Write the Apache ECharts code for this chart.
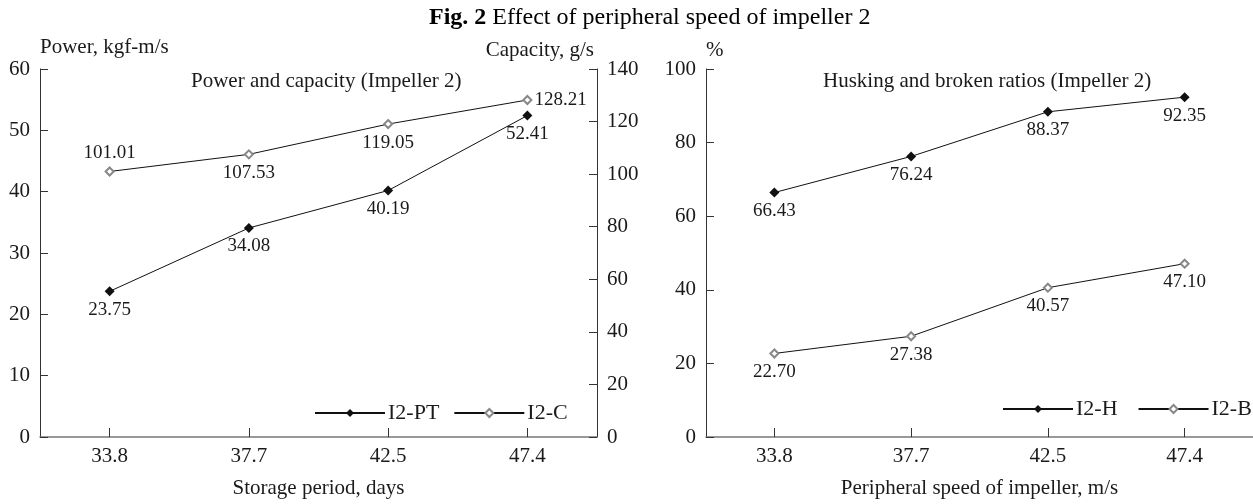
<!DOCTYPE html>
<html>
<head>
<meta charset="utf-8">
<script src="https://cdn.jsdelivr.net/npm/echarts@6/dist/echarts.min.js"></script>
<style>
html,body{margin:0;padding:0;background:#fff;}
#c{width:1253px;height:504px;}
</style>
</head>
<body>
<div id="c"></div>
<script>
const categories = ['33.8', '37.7', '42.5', '47.4'];
const powerPT = [23.75, 34.08, 40.19, 52.41];
const capacityC = [101.01, 107.53, 119.05, 128.21];
const huskingH = [66.43, 76.24, 88.37, 92.35];
const brokenB = [22.70, 27.38, 40.57, 47.10];

const FONT = '"Liberation Serif", "DejaVu Serif", serif';
const TXT = '#1a1a1a';

const chart = echarts.init(document.getElementById('c'), null, {renderer: 'canvas'});

function xAxis(gridIndex, name) {
  return {
    type: 'category', gridIndex: gridIndex, data: categories, boundaryGap: true,
    name: name, nameLocation: 'middle', nameGap: 41,
    nameTextStyle: {fontFamily: FONT, fontSize: 21, color: TXT},
    axisLine: {show: true, lineStyle: {color: '#777', width: 1.5}},
    axisTick: {show: true, inside: true, length: 9, alignWithLabel: true, lineStyle: {color: '#333', width: 1}},
    axisLabel: {fontFamily: FONT, fontSize: 21, color: TXT, margin: 9},
    splitLine: {show: false}
  };
}
function yAxis(gridIndex, opts) {
  return Object.assign({
    type: 'value', gridIndex: gridIndex,
    nameLocation: 'end',
    axisLine: {show: true, lineStyle: {color: '#333', width: 1}},
    axisTick: {show: true, inside: true, length: 8, lineStyle: {color: '#333', width: 1}},
    axisLabel: {fontFamily: FONT, fontSize: 21, color: TXT, margin: 10},
    splitLine: {show: false}
  }, opts);
}
function labelStyle(pos) {
  return {show: true, position: pos, distance: 4, fontFamily: FONT, fontSize: 19, color: TXT,
    formatter: p => Number(p.value).toFixed(2)};
}
const filled = {symbol: 'diamond', symbolSize: 10, itemStyle: {color: '#111'}};
const hollow = {symbol: 'emptyDiamond', symbolSize: 8, itemStyle: {color: '#888', borderWidth: 1}};

const option = {
  backgroundColor: '#fff',
  animation: false,
  title: [
    {text: '{b|Fig. 2} Effect of peripheral speed of impeller 2', left: 424, top: 1,
      textStyle: {fontFamily: FONT, fontSize: 24, color: '#000', fontWeight: 'normal',
        rich: {b: {fontFamily: FONT, fontSize: 24, fontWeight: 'bold', color: '#000'}}}},
    {text: 'Power and capacity (Impeller 2)', left: 186, top: 66,
      textStyle: {fontFamily: FONT, fontSize: 21, color: TXT, fontWeight: 'normal'}},
    {text: 'Husking and broken ratios (Impeller 2)', left: 818, top: 66,
      textStyle: {fontFamily: FONT, fontSize: 21, color: TXT, fontWeight: 'normal'}}
  ],
  legend: [
    {data: ['I2-PT', 'I2-C'], left: 309, top: 397, width: 400, itemWidth: 70, itemHeight: 10, itemGap: 14,
      textStyle: {fontFamily: FONT, fontSize: 22, color: TXT, padding: [0, 0, 0, -2]}},
    {data: ['I2-H', 'I2-B'], left: 997, top: 393, width: 400, itemWidth: 70, itemHeight: 10, itemGap: 20,
      textStyle: {fontFamily: FONT, fontSize: 22, color: TXT, padding: [0, 0, 0, -2]}}
  ],
  grid: [
    {left: 40, top: 69, width: 557, height: 373},
    {left: 706, top: 69, width: 557, height: 373}
  ],
  xAxis: [xAxis(0, 'Storage period, days'), xAxis(1, 'Peripheral speed of impeller, m/s')],
  yAxis: [
    yAxis(0, {min: 0, max: 60, interval: 10, name: 'Power, kgf-m/s', nameGap: 11,
      nameTextStyle: {fontFamily: FONT, fontSize: 21, color: TXT, align: 'left'}}),
    yAxis(0, {min: 0, max: 140, interval: 20, position: 'right', name: 'Capacity, g/s', nameGap: 8,
      nameTextStyle: {fontFamily: FONT, fontSize: 21, color: TXT, align: 'right', padding: [0, 3, 0, 0]}}),
    yAxis(1, {min: 0, max: 100, interval: 20, name: '%', nameGap: 8,
      nameTextStyle: {fontFamily: FONT, fontSize: 21, color: TXT, align: 'left'}})
  ],
  series: [
    Object.assign({name: 'I2-PT', type: 'line', xAxisIndex: 0, yAxisIndex: 0, data: powerPT,
      lineStyle: {color: '#111', width: 1}, label: labelStyle('bottom')}, filled),
    Object.assign({name: 'I2-C', type: 'line', xAxisIndex: 0, yAxisIndex: 1,
      data: capacityC.map((v, i) => i === 0 ? {value: v, label: {position: 'top', distance: 4}}
        : i === capacityC.length - 1 ? {value: v, label: {position: 'right', distance: 2}} : v),
      lineStyle: {color: '#111', width: 1}, label: labelStyle('bottom')}, hollow),
    Object.assign({name: 'I2-H', type: 'line', xAxisIndex: 1, yAxisIndex: 2, data: huskingH,
      lineStyle: {color: '#111', width: 1}, label: labelStyle('bottom')}, filled),
    Object.assign({name: 'I2-B', type: 'line', xAxisIndex: 1, yAxisIndex: 2, data: brokenB,
      lineStyle: {color: '#111', width: 1}, label: labelStyle('bottom')}, hollow)
  ]
};
chart.setOption(option);
</script>
</body>
</html>
